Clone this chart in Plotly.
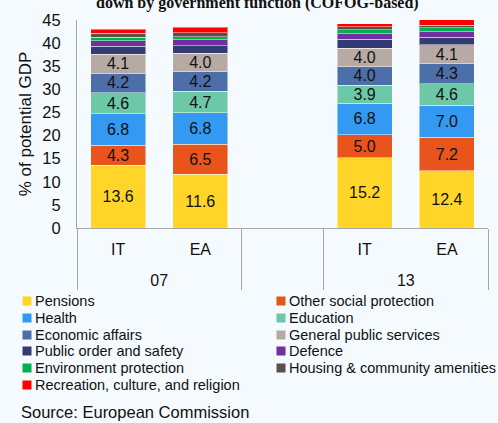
import plotly.graph_objects as go

# ---------------- data ----------------
outer_cats = ["07", "07", " ", "13", "13"]
inner_cats = ["IT", "EA", " ", "IT", "EA"]

series_names = [
    "Pensions", "Other social protection", "Health", "Education",
    "Economic affairs", "General public services", "Public order and safety",
    "Defence", "Environment protection", "Housing & community amenities",
    "Recreation, culture, and religion",
]
pensions = [13.6, 11.6, None, 15.2, 12.4]
other_social = [4.3, 6.5, None, 5.0, 7.2]
health = [6.8, 6.8, None, 6.8, 7.0]
education = [4.6, 4.7, None, 3.9, 4.6]
economic_affairs = [4.2, 4.2, None, 4.0, 4.3]
general_public = [4.1, 4.0, None, 4.0, 4.1]
public_order = [1.7, 1.6, None, 1.9, 1.7]
defence = [1.2, 1.3, None, 1.2, 1.2]
environment = [0.8, 0.7, None, 0.9, 0.8]
housing = [0.8, 0.8, None, 0.6, 0.6]
recreation = [0.9, 1.2, None, 0.7, 1.2]
series_values = [pensions, other_social, health, education, economic_affairs,
                 general_public, public_order, defence, environment, housing,
                 recreation]
labelled = [True, True, True, True, True, True, False, False, False, False, False]

colors = ["#FFD52A", "#E8541C", "#3399F3", "#6DC8A8", "#4D6FA9", "#B7AAA4",
          "#333B73", "#7030A0", "#00B050", "#5B4F49", "#FF0000"]

y_ticks = [0, 5, 10, 15, 20, 25, 30, 35, 40, 45]

# ---------------- layout helpers ----------------
W, H = 498, 423
PL, PR, PT, PB = 77, 488, 20, 228
FONT = "Liberation Sans, Arial, sans-serif"
BG = "#F5FAFE"


def px_x(px):
    return (px - PL) / (PR - PL)


def px_y(py):
    return (PB - py) / (PB - PT)


# inner labels get a tiny, background-coloured second line so that the outer
# category row and the dividers sit a bit lower, as in the reference
SPACER = "<br><span style='font-size:4px;fill:%s'>.</span>" % BG
inner_display = [c + SPACER if c.strip() else c for c in inner_cats]

fig = go.Figure()
for name, vals, col, lab in zip(series_names, series_values, colors, labelled):
    fig.add_trace(go.Bar(
        x=[outer_cats, inner_display], y=vals, name=name,
        marker=dict(color=col, line=dict(color="rgba(255,255,255,0.45)", width=1)),
        texttemplate="%{y:.1f}" if lab else None,
        textposition="inside" if lab else "none",
        insidetextanchor="middle", textangle=0,
        textfont=dict(family=FONT, size=16, color="#111111"),
        showlegend=False,
    ))

annotations = []
# legend built from series names / colours
for i, (name, col) in enumerate(zip(series_names, colors)):
    row, c = divmod(i, 2)
    cy = 301 + row * 16.8
    sx = 23 if c == 0 else 277
    annotations.append(dict(
        x=px_x(sx + 4), y=px_y(cy), xref="paper", yref="paper",
        xanchor="center", yanchor="middle", text=" ", showarrow=False,
        width=8, height=8, bgcolor=col, borderpad=0, font=dict(size=6),
    ))
    annotations.append(dict(
        x=px_x(sx + 10), y=px_y(cy), xref="paper", yref="paper",
        xanchor="left", yanchor="middle", text=name, showarrow=False,
        font=dict(family=FONT, size=14.5, color="#111111"),
    ))

annotations.append(dict(
    x=px_x(19), y=px_y(412), xref="paper", yref="paper",
    xanchor="left", yanchor="middle", text="Source: European Commission",
    showarrow=False, font=dict(family=FONT, size=16.5, color="#111111"),
))
annotations.append(dict(
    x=px_x(257), y=px_y(3.5), xref="paper", yref="paper",
    xanchor="center", yanchor="middle",
    text="<b>down by government function (COFOG-based)</b>",
    showarrow=False,
    font=dict(family="Liberation Serif, Times New Roman, serif", size=16, color="#111111"),
))

fig.update_layout(
    width=W, height=H, barmode="stack", bargap=0.33,
    margin=dict(l=PL, r=W - PR, t=PT, b=H - PB, autoexpand=False),
    paper_bgcolor=BG, plot_bgcolor=BG,
    font=dict(family=FONT, color="#111111"),
    showlegend=False,
    uniformtext=dict(minsize=16, mode="show"),
    annotations=annotations,
)
fig.update_yaxes(
    range=[0, 45], tickvals=y_ticks, showgrid=False, zeroline=False,
    showline=True, linecolor="#A6A6A6", linewidth=1, ticks="",
    tickfont=dict(family=FONT, size=16.5, color="#111111"),
    ticklabelstandoff=12, automargin=False,
    title=dict(text="% of potential GDP", standoff=6,
               font=dict(family=FONT, size=17, color="#111111")),
)
fig.update_xaxes(
    type="multicategory", showgrid=False, showline=True,
    linecolor="#A6A6A6", linewidth=1, ticks="", automargin=False,
    showdividers=True, dividercolor="#A6A6A6", dividerwidth=1,
    ticklabelstandoff=7,
    tickfont=dict(family=FONT, size=16, color="#111111"),
)

fig.write_html(
    "out.html",
    config={"displayModeBar": False},
    post_script="document.body.style.margin='0';document.body.style.background='%s';" % BG,
)
